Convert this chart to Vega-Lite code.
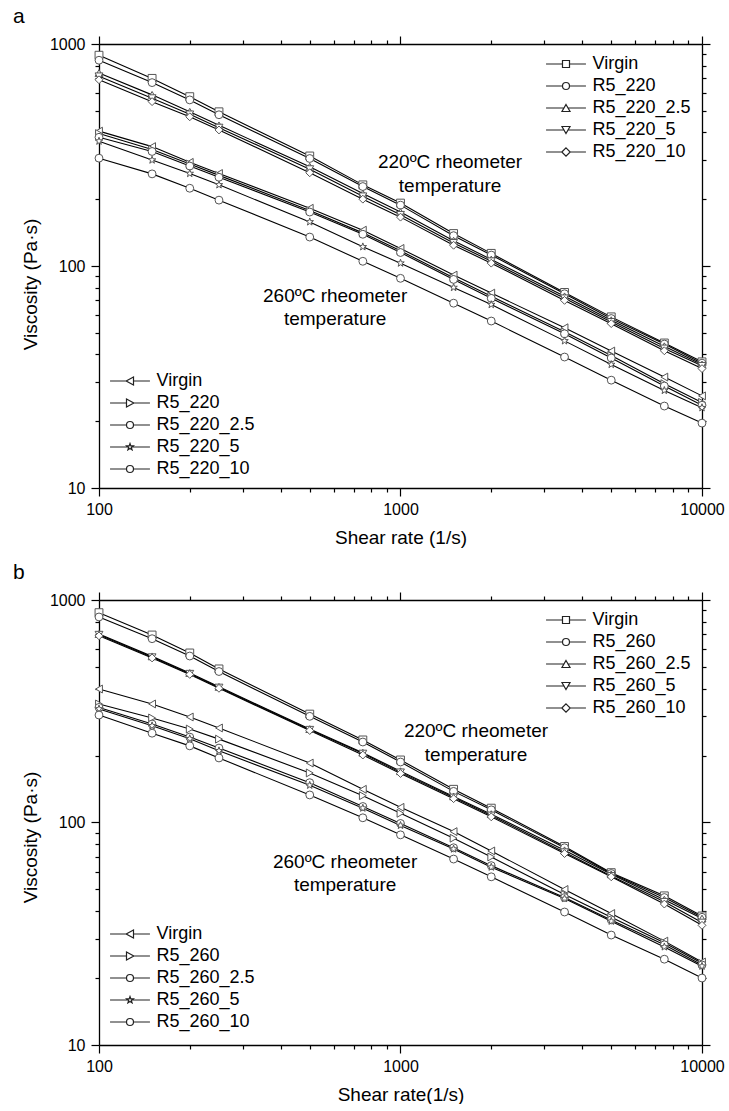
{
"$schema": "https://vega.github.io/schema/vega-lite/v6.json",
"padding": {"left": 13, "top": 6, "right": 0, "bottom": 0},
"spacing": 15,
"datasets": {
"a": [
{"temp":220,"sample":"Virgin","rate":100,"viscosity":890},{"temp":220,"sample":"Virgin","rate":150,"viscosity":700},{"temp":220,"sample":"Virgin","rate":200,"viscosity":579},{"temp":220,"sample":"Virgin","rate":250,"viscosity":495},{"temp":220,"sample":"Virgin","rate":500,"viscosity":313},{"temp":220,"sample":"Virgin","rate":750,"viscosity":232},{"temp":220,"sample":"Virgin","rate":1000,"viscosity":192},{"temp":220,"sample":"Virgin","rate":1500,"viscosity":140},{"temp":220,"sample":"Virgin","rate":2000,"viscosity":114},{"temp":220,"sample":"Virgin","rate":3500,"viscosity":76},{"temp":220,"sample":"Virgin","rate":5000,"viscosity":59},{"temp":220,"sample":"Virgin","rate":7500,"viscosity":45},{"temp":220,"sample":"Virgin","rate":10000,"viscosity":37},
{"temp":220,"sample":"R5_220","rate":100,"viscosity":845},{"temp":220,"sample":"R5_220","rate":150,"viscosity":670},{"temp":220,"sample":"R5_220","rate":200,"viscosity":560},{"temp":220,"sample":"R5_220","rate":250,"viscosity":480},{"temp":220,"sample":"R5_220","rate":500,"viscosity":305},{"temp":220,"sample":"R5_220","rate":750,"viscosity":228},{"temp":220,"sample":"R5_220","rate":1000,"viscosity":188},{"temp":220,"sample":"R5_220","rate":1500,"viscosity":137},{"temp":220,"sample":"R5_220","rate":2000,"viscosity":112},{"temp":220,"sample":"R5_220","rate":3500,"viscosity":75},{"temp":220,"sample":"R5_220","rate":5000,"viscosity":58},{"temp":220,"sample":"R5_220","rate":7500,"viscosity":44.5},{"temp":220,"sample":"R5_220","rate":10000,"viscosity":36.5},
{"temp":220,"sample":"R5_220_2.5","rate":100,"viscosity":740},{"temp":220,"sample":"R5_220_2.5","rate":150,"viscosity":590},{"temp":220,"sample":"R5_220_2.5","rate":200,"viscosity":495},{"temp":220,"sample":"R5_220_2.5","rate":250,"viscosity":430},{"temp":220,"sample":"R5_220_2.5","rate":500,"viscosity":280},{"temp":220,"sample":"R5_220_2.5","rate":750,"viscosity":212},{"temp":220,"sample":"R5_220_2.5","rate":1000,"viscosity":175},{"temp":220,"sample":"R5_220_2.5","rate":1500,"viscosity":130},{"temp":220,"sample":"R5_220_2.5","rate":2000,"viscosity":107},{"temp":220,"sample":"R5_220_2.5","rate":3500,"viscosity":73},{"temp":220,"sample":"R5_220_2.5","rate":5000,"viscosity":57},{"temp":220,"sample":"R5_220_2.5","rate":7500,"viscosity":43.5},{"temp":220,"sample":"R5_220_2.5","rate":10000,"viscosity":36},
{"temp":220,"sample":"R5_220_5","rate":100,"viscosity":715},{"temp":220,"sample":"R5_220_5","rate":150,"viscosity":570},{"temp":220,"sample":"R5_220_5","rate":200,"viscosity":482},{"temp":220,"sample":"R5_220_5","rate":250,"viscosity":420},{"temp":220,"sample":"R5_220_5","rate":500,"viscosity":273},{"temp":220,"sample":"R5_220_5","rate":750,"viscosity":206},{"temp":220,"sample":"R5_220_5","rate":1000,"viscosity":170},{"temp":220,"sample":"R5_220_5","rate":1500,"viscosity":127},{"temp":220,"sample":"R5_220_5","rate":2000,"viscosity":105},{"temp":220,"sample":"R5_220_5","rate":3500,"viscosity":71.5},{"temp":220,"sample":"R5_220_5","rate":5000,"viscosity":56},{"temp":220,"sample":"R5_220_5","rate":7500,"viscosity":42.5},{"temp":220,"sample":"R5_220_5","rate":10000,"viscosity":35.5},
{"temp":220,"sample":"R5_220_10","rate":100,"viscosity":690},{"temp":220,"sample":"R5_220_10","rate":150,"viscosity":550},{"temp":220,"sample":"R5_220_10","rate":200,"viscosity":470},{"temp":220,"sample":"R5_220_10","rate":250,"viscosity":410},{"temp":220,"sample":"R5_220_10","rate":500,"viscosity":263},{"temp":220,"sample":"R5_220_10","rate":750,"viscosity":200},{"temp":220,"sample":"R5_220_10","rate":1000,"viscosity":166},{"temp":220,"sample":"R5_220_10","rate":1500,"viscosity":124},{"temp":220,"sample":"R5_220_10","rate":2000,"viscosity":103},{"temp":220,"sample":"R5_220_10","rate":3500,"viscosity":70},{"temp":220,"sample":"R5_220_10","rate":5000,"viscosity":55},{"temp":220,"sample":"R5_220_10","rate":7500,"viscosity":41.5},{"temp":220,"sample":"R5_220_10","rate":10000,"viscosity":34.5},
{"temp":260,"sample":"Virgin","rate":100,"viscosity":405},{"temp":260,"sample":"Virgin","rate":150,"viscosity":345},{"temp":260,"sample":"Virgin","rate":200,"viscosity":293},{"temp":260,"sample":"Virgin","rate":250,"viscosity":261},{"temp":260,"sample":"Virgin","rate":500,"viscosity":182},{"temp":260,"sample":"Virgin","rate":750,"viscosity":145},{"temp":260,"sample":"Virgin","rate":1000,"viscosity":120},{"temp":260,"sample":"Virgin","rate":1500,"viscosity":91},{"temp":260,"sample":"Virgin","rate":2000,"viscosity":75.5},{"temp":260,"sample":"Virgin","rate":3500,"viscosity":52.7},{"temp":260,"sample":"Virgin","rate":5000,"viscosity":41.4},{"temp":260,"sample":"Virgin","rate":7500,"viscosity":31.6},{"temp":260,"sample":"Virgin","rate":10000,"viscosity":26},
{"temp":260,"sample":"R5_220","rate":100,"viscosity":395},{"temp":260,"sample":"R5_220","rate":150,"viscosity":335},{"temp":260,"sample":"R5_220","rate":200,"viscosity":288},{"temp":260,"sample":"R5_220","rate":250,"viscosity":256},{"temp":260,"sample":"R5_220","rate":500,"viscosity":178},{"temp":260,"sample":"R5_220","rate":750,"viscosity":141},{"temp":260,"sample":"R5_220","rate":1000,"viscosity":117},{"temp":260,"sample":"R5_220","rate":1500,"viscosity":88.5},{"temp":260,"sample":"R5_220","rate":2000,"viscosity":73},{"temp":260,"sample":"R5_220","rate":3500,"viscosity":50.5},{"temp":260,"sample":"R5_220","rate":5000,"viscosity":39.5},{"temp":260,"sample":"R5_220","rate":7500,"viscosity":29.5},{"temp":260,"sample":"R5_220","rate":10000,"viscosity":24.3},
{"temp":260,"sample":"R5_220_2.5","rate":100,"viscosity":380},{"temp":260,"sample":"R5_220_2.5","rate":150,"viscosity":328},{"temp":260,"sample":"R5_220_2.5","rate":200,"viscosity":282},{"temp":260,"sample":"R5_220_2.5","rate":250,"viscosity":251},{"temp":260,"sample":"R5_220_2.5","rate":500,"viscosity":175},{"temp":260,"sample":"R5_220_2.5","rate":750,"viscosity":139},{"temp":260,"sample":"R5_220_2.5","rate":1000,"viscosity":115},{"temp":260,"sample":"R5_220_2.5","rate":1500,"viscosity":87},{"temp":260,"sample":"R5_220_2.5","rate":2000,"viscosity":71.5},{"temp":260,"sample":"R5_220_2.5","rate":3500,"viscosity":49.5},{"temp":260,"sample":"R5_220_2.5","rate":5000,"viscosity":38.5},{"temp":260,"sample":"R5_220_2.5","rate":7500,"viscosity":28.8},{"temp":260,"sample":"R5_220_2.5","rate":10000,"viscosity":23.6},
{"temp":260,"sample":"R5_220_5","rate":100,"viscosity":365},{"temp":260,"sample":"R5_220_5","rate":150,"viscosity":300},{"temp":260,"sample":"R5_220_5","rate":200,"viscosity":261},{"temp":260,"sample":"R5_220_5","rate":250,"viscosity":232},{"temp":260,"sample":"R5_220_5","rate":500,"viscosity":158},{"temp":260,"sample":"R5_220_5","rate":750,"viscosity":122},{"temp":260,"sample":"R5_220_5","rate":1000,"viscosity":103},{"temp":260,"sample":"R5_220_5","rate":1500,"viscosity":80},{"temp":260,"sample":"R5_220_5","rate":2000,"viscosity":67},{"temp":260,"sample":"R5_220_5","rate":3500,"viscosity":46},{"temp":260,"sample":"R5_220_5","rate":5000,"viscosity":36},{"temp":260,"sample":"R5_220_5","rate":7500,"viscosity":27.5},{"temp":260,"sample":"R5_220_5","rate":10000,"viscosity":23},
{"temp":260,"sample":"R5_220_10","rate":100,"viscosity":306},{"temp":260,"sample":"R5_220_10","rate":150,"viscosity":260},{"temp":260,"sample":"R5_220_10","rate":200,"viscosity":224},{"temp":260,"sample":"R5_220_10","rate":250,"viscosity":198},{"temp":260,"sample":"R5_220_10","rate":500,"viscosity":135},{"temp":260,"sample":"R5_220_10","rate":750,"viscosity":105},{"temp":260,"sample":"R5_220_10","rate":1000,"viscosity":88},{"temp":260,"sample":"R5_220_10","rate":1500,"viscosity":68},{"temp":260,"sample":"R5_220_10","rate":2000,"viscosity":56.5},{"temp":260,"sample":"R5_220_10","rate":3500,"viscosity":38.9},{"temp":260,"sample":"R5_220_10","rate":5000,"viscosity":30.6},{"temp":260,"sample":"R5_220_10","rate":7500,"viscosity":23.4},{"temp":260,"sample":"R5_220_10","rate":10000,"viscosity":19.6}
],
"b": [
{"temp":220,"sample":"Virgin","rate":100,"viscosity":877},{"temp":220,"sample":"Virgin","rate":150,"viscosity":696},{"temp":220,"sample":"Virgin","rate":200,"viscosity":578},{"temp":220,"sample":"Virgin","rate":250,"viscosity":490},{"temp":220,"sample":"Virgin","rate":500,"viscosity":307},{"temp":220,"sample":"Virgin","rate":750,"viscosity":235},{"temp":220,"sample":"Virgin","rate":1000,"viscosity":191},{"temp":220,"sample":"Virgin","rate":1500,"viscosity":141},{"temp":220,"sample":"Virgin","rate":2000,"viscosity":116},{"temp":220,"sample":"Virgin","rate":3500,"viscosity":78},{"temp":220,"sample":"Virgin","rate":5000,"viscosity":59.5},{"temp":220,"sample":"Virgin","rate":7500,"viscosity":46.8},{"temp":220,"sample":"Virgin","rate":10000,"viscosity":38},
{"temp":220,"sample":"R5_260","rate":100,"viscosity":839},{"temp":220,"sample":"R5_260","rate":150,"viscosity":670},{"temp":220,"sample":"R5_260","rate":200,"viscosity":560},{"temp":220,"sample":"R5_260","rate":250,"viscosity":477},{"temp":220,"sample":"R5_260","rate":500,"viscosity":300},{"temp":220,"sample":"R5_260","rate":750,"viscosity":230},{"temp":220,"sample":"R5_260","rate":1000,"viscosity":187},{"temp":220,"sample":"R5_260","rate":1500,"viscosity":138},{"temp":220,"sample":"R5_260","rate":2000,"viscosity":114},{"temp":220,"sample":"R5_260","rate":3500,"viscosity":77},{"temp":220,"sample":"R5_260","rate":5000,"viscosity":59},{"temp":220,"sample":"R5_260","rate":7500,"viscosity":46},{"temp":220,"sample":"R5_260","rate":10000,"viscosity":37.5},
{"temp":220,"sample":"R5_260_2.5","rate":100,"viscosity":703},{"temp":220,"sample":"R5_260_2.5","rate":150,"viscosity":558},{"temp":220,"sample":"R5_260_2.5","rate":200,"viscosity":470},{"temp":220,"sample":"R5_260_2.5","rate":250,"viscosity":407},{"temp":220,"sample":"R5_260_2.5","rate":500,"viscosity":263},{"temp":220,"sample":"R5_260_2.5","rate":750,"viscosity":206},{"temp":220,"sample":"R5_260_2.5","rate":1000,"viscosity":170},{"temp":220,"sample":"R5_260_2.5","rate":1500,"viscosity":131},{"temp":220,"sample":"R5_260_2.5","rate":2000,"viscosity":109},{"temp":220,"sample":"R5_260_2.5","rate":3500,"viscosity":75},{"temp":220,"sample":"R5_260_2.5","rate":5000,"viscosity":58.5},{"temp":220,"sample":"R5_260_2.5","rate":7500,"viscosity":45},{"temp":220,"sample":"R5_260_2.5","rate":10000,"viscosity":37},
{"temp":220,"sample":"R5_260_5","rate":100,"viscosity":698},{"temp":220,"sample":"R5_260_5","rate":150,"viscosity":553},{"temp":220,"sample":"R5_260_5","rate":200,"viscosity":466},{"temp":220,"sample":"R5_260_5","rate":250,"viscosity":404},{"temp":220,"sample":"R5_260_5","rate":500,"viscosity":261},{"temp":220,"sample":"R5_260_5","rate":750,"viscosity":204},{"temp":220,"sample":"R5_260_5","rate":1000,"viscosity":168},{"temp":220,"sample":"R5_260_5","rate":1500,"viscosity":129.5},{"temp":220,"sample":"R5_260_5","rate":2000,"viscosity":107.5},{"temp":220,"sample":"R5_260_5","rate":3500,"viscosity":73.5},{"temp":220,"sample":"R5_260_5","rate":5000,"viscosity":57.5},{"temp":220,"sample":"R5_260_5","rate":7500,"viscosity":44},{"temp":220,"sample":"R5_260_5","rate":10000,"viscosity":35.5},
{"temp":220,"sample":"R5_260_10","rate":100,"viscosity":690},{"temp":220,"sample":"R5_260_10","rate":150,"viscosity":549},{"temp":220,"sample":"R5_260_10","rate":200,"viscosity":463},{"temp":220,"sample":"R5_260_10","rate":250,"viscosity":401},{"temp":220,"sample":"R5_260_10","rate":500,"viscosity":259},{"temp":220,"sample":"R5_260_10","rate":750,"viscosity":201},{"temp":220,"sample":"R5_260_10","rate":1000,"viscosity":166},{"temp":220,"sample":"R5_260_10","rate":1500,"viscosity":128},{"temp":220,"sample":"R5_260_10","rate":2000,"viscosity":106},{"temp":220,"sample":"R5_260_10","rate":3500,"viscosity":72.5},{"temp":220,"sample":"R5_260_10","rate":5000,"viscosity":57},{"temp":220,"sample":"R5_260_10","rate":7500,"viscosity":43},{"temp":220,"sample":"R5_260_10","rate":10000,"viscosity":34.5},
{"temp":260,"sample":"Virgin","rate":100,"viscosity":398},{"temp":260,"sample":"Virgin","rate":150,"viscosity":341},{"temp":260,"sample":"Virgin","rate":200,"viscosity":298},{"temp":260,"sample":"Virgin","rate":250,"viscosity":266},{"temp":260,"sample":"Virgin","rate":500,"viscosity":185},{"temp":260,"sample":"Virgin","rate":750,"viscosity":141},{"temp":260,"sample":"Virgin","rate":1000,"viscosity":117},{"temp":260,"sample":"Virgin","rate":1500,"viscosity":91},{"temp":260,"sample":"Virgin","rate":2000,"viscosity":74.5},{"temp":260,"sample":"Virgin","rate":3500,"viscosity":50},{"temp":260,"sample":"Virgin","rate":5000,"viscosity":39},{"temp":260,"sample":"Virgin","rate":7500,"viscosity":29.3},{"temp":260,"sample":"Virgin","rate":10000,"viscosity":23.6},
{"temp":260,"sample":"R5_260","rate":100,"viscosity":341},{"temp":260,"sample":"R5_260","rate":150,"viscosity":295},{"temp":260,"sample":"R5_260","rate":200,"viscosity":263},{"temp":260,"sample":"R5_260","rate":250,"viscosity":237},{"temp":260,"sample":"R5_260","rate":500,"viscosity":167},{"temp":260,"sample":"R5_260","rate":750,"viscosity":132},{"temp":260,"sample":"R5_260","rate":1000,"viscosity":110},{"temp":260,"sample":"R5_260","rate":1500,"viscosity":85},{"temp":260,"sample":"R5_260","rate":2000,"viscosity":70},{"temp":260,"sample":"R5_260","rate":3500,"viscosity":47.5},{"temp":260,"sample":"R5_260","rate":5000,"viscosity":37.5},{"temp":260,"sample":"R5_260","rate":7500,"viscosity":28.8},{"temp":260,"sample":"R5_260","rate":10000,"viscosity":23.3},
{"temp":260,"sample":"R5_260_2.5","rate":100,"viscosity":329},{"temp":260,"sample":"R5_260_2.5","rate":150,"viscosity":277},{"temp":260,"sample":"R5_260_2.5","rate":200,"viscosity":242},{"temp":260,"sample":"R5_260_2.5","rate":250,"viscosity":216},{"temp":260,"sample":"R5_260_2.5","rate":500,"viscosity":151},{"temp":260,"sample":"R5_260_2.5","rate":750,"viscosity":118},{"temp":260,"sample":"R5_260_2.5","rate":1000,"viscosity":99},{"temp":260,"sample":"R5_260_2.5","rate":1500,"viscosity":77},{"temp":260,"sample":"R5_260_2.5","rate":2000,"viscosity":64},{"temp":260,"sample":"R5_260_2.5","rate":3500,"viscosity":46},{"temp":260,"sample":"R5_260_2.5","rate":5000,"viscosity":36.5},{"temp":260,"sample":"R5_260_2.5","rate":7500,"viscosity":28.2},{"temp":260,"sample":"R5_260_2.5","rate":10000,"viscosity":22.9},
{"temp":260,"sample":"R5_260_5","rate":100,"viscosity":324},{"temp":260,"sample":"R5_260_5","rate":150,"viscosity":272},{"temp":260,"sample":"R5_260_5","rate":200,"viscosity":238},{"temp":260,"sample":"R5_260_5","rate":250,"viscosity":210},{"temp":260,"sample":"R5_260_5","rate":500,"viscosity":147},{"temp":260,"sample":"R5_260_5","rate":750,"viscosity":116},{"temp":260,"sample":"R5_260_5","rate":1000,"viscosity":97},{"temp":260,"sample":"R5_260_5","rate":1500,"viscosity":76},{"temp":260,"sample":"R5_260_5","rate":2000,"viscosity":63},{"temp":260,"sample":"R5_260_5","rate":3500,"viscosity":45.5},{"temp":260,"sample":"R5_260_5","rate":5000,"viscosity":36},{"temp":260,"sample":"R5_260_5","rate":7500,"viscosity":27.6},{"temp":260,"sample":"R5_260_5","rate":10000,"viscosity":22.6},
{"temp":260,"sample":"R5_260_10","rate":100,"viscosity":304},{"temp":260,"sample":"R5_260_10","rate":150,"viscosity":252},{"temp":260,"sample":"R5_260_10","rate":200,"viscosity":221},{"temp":260,"sample":"R5_260_10","rate":250,"viscosity":195},{"temp":260,"sample":"R5_260_10","rate":500,"viscosity":133},{"temp":260,"sample":"R5_260_10","rate":750,"viscosity":105},{"temp":260,"sample":"R5_260_10","rate":1000,"viscosity":88},{"temp":260,"sample":"R5_260_10","rate":1500,"viscosity":68.5},{"temp":260,"sample":"R5_260_10","rate":2000,"viscosity":57},{"temp":260,"sample":"R5_260_10","rate":3500,"viscosity":39.6},{"temp":260,"sample":"R5_260_10","rate":5000,"viscosity":31.2},{"temp":260,"sample":"R5_260_10","rate":7500,"viscosity":24.3},{"temp":260,"sample":"R5_260_10","rate":10000,"viscosity":20}
]
},
"vconcat": [
{
"title": {"text": "a"},
"width": 603, "height": 444,
"resolve": {"scale": {"shape": "independent"}, "axis": {"x": "independent", "y": "independent"}},
"layer": [
{"data": {"name": "a"},
 "mark": {"type": "line", "color": "black", "strokeWidth": 1.1},
 "encoding": {
  "x": {"field": "rate", "type": "quantitative", "scale": {"type": "log", "domain": [100, 10000], "nice": false},
   "axis": {"orient": "bottom", "values": [100,200,300,400,500,600,700,800,900,1000,2000,3000,4000,5000,6000,7000,8000,9000,10000], "labelExpr": "datum.value==100||datum.value==1000||datum.value==10000 ? format(datum.value,'d') : ''", "tickSize": {"condition": {"test": "datum.value==100||datum.value==1000||datum.value==10000", "value": 8}, "value": 4}, "labelFlush": false, "labelOverlap": false, "labelPadding": 5, "title": "Shear rate (1/s)", "titlePadding": 11}},
  "y": {"field": "viscosity", "type": "quantitative", "scale": {"type": "log", "domain": [10, 1000], "nice": false},
   "axis": {"orient": "left", "values": [10,20,30,40,50,60,70,80,90,100,200,300,400,500,600,700,800,900,1000], "labelExpr": "datum.value==10||datum.value==100||datum.value==1000 ? format(datum.value,'d') : ''", "tickSize": {"condition": {"test": "datum.value==10||datum.value==100||datum.value==1000", "value": 8}, "value": 4}, "labelOverlap": false, "labelPadding": 6, "title": "Viscosity (Pa·s)", "titlePadding": 9, "titleY": 240}},
  "detail": [{"field": "temp"}, {"field": "sample"}]
 }},
{"data": {"name": "a"},
 "transform": [{"filter": "datum.temp == 220"}],
 "mark": {"type": "point", "filled": true, "fill": "white", "stroke": "#555", "strokeWidth": 1, "size": 62, "opacity": 1},
 "encoding": {
  "x": {"field": "rate", "type": "quantitative", "axis": {"orient": "top", "values": [100,200,300,400,500,600,700,800,900,1000,2000,3000,4000,5000,6000,7000,8000,9000,10000], "labels": false, "title": null, "tickSize": {"condition": {"test": "datum.value==100||datum.value==1000||datum.value==10000", "value": 8}, "value": 4}}},
  "y": {"field": "viscosity", "type": "quantitative", "axis": {"orient": "right", "values": [10,20,30,40,50,60,70,80,90,100,200,300,400,500,600,700,800,900,1000], "labels": false, "title": null, "tickSize": {"condition": {"test": "datum.value==10||datum.value==100||datum.value==1000", "value": 8}, "value": 4}}},
  "shape": {"field": "sample", "type": "nominal", "legend": null, "scale": {"domain": ["Virgin", "R5_220", "R5_220_2.5", "R5_220_5", "R5_220_10"], "range": ["square", "circle", "triangle-up", "triangle-down", "diamond"]}}
 }},
{"data": {"name": "a"},
 "transform": [{"filter": "datum.temp == 260"}],
 "mark": {"type": "point", "filled": true, "fill": "white", "stroke": "#555", "strokeWidth": 1, "size": 62, "opacity": 1},
 "encoding": {
  "x": {"field": "rate", "type": "quantitative", "axis": null},
  "y": {"field": "viscosity", "type": "quantitative", "axis": null},
  "shape": {"field": "sample", "type": "nominal", "legend": null, "scale": {"domain": ["Virgin", "R5_220", "R5_220_2.5", "R5_220_5", "R5_220_10"], "range": ["triangle-left", "triangle-right", "circle", "M0,-1L0.235,-0.324L0.951,-0.309L0.38,0.124L0.588,0.809L0,0.4L-0.588,0.809L-0.38,0.124L-0.951,-0.309L-0.235,-0.324Z", "circle"]}}
 }},
{"data": {"values": []},
 "mark": {"type": "point", "filled": false, "stroke": "#222", "strokeWidth": 1.2, "opacity": 1},
 "encoding": {
  "shape": {"field": "sample", "type": "nominal", "scale": {"domain": ["Virgin", "R5_220", "R5_220_2.5", "R5_220_5", "R5_220_10"], "range": ["M-5.7,0H-1M1,0H5.7M-1,-1H1V1H-1Z", "M-5.7,0H-1M1,0H5.7M-1,0A1 1 0 1 0 1,0A1 1 0 1 0 -1,0Z", "M-5.7,0H-0.575M0.575,0H5.7M0,-1L1.15,1L-1.15,1Z", "M-5.7,0H-0.575M0.575,0H5.7M0,1L1.15,-1L-1.15,-1Z", "M-5.7,0H-1.2M1.2,0H5.7M0,-1.2L1.2,0L0,1.2L-1.2,0Z"]},
   "legend": {"orient": "top-right", "offset": 11}}
 }},
{"data": {"values": []},
 "mark": {"type": "point", "filled": false, "stroke": "#222", "strokeWidth": 1.2, "opacity": 1},
 "encoding": {
  "shape": {"field": "sample", "type": "nominal", "scale": {"domain": ["Virgin", "R5_220", "R5_220_2.5", "R5_220_5", "R5_220_10"], "range": ["M-5.7,0H-1.1M1,0H5.7M-1.1,0L1,-1.15L1,1.15Z", "M-5.7,0H-1M1.1,0H5.7M1.1,0L-1,-1.15L-1,1.15Z", "M-5.7,0H-1M1,0H5.7M-1,0A1 1 0 1 0 1,0A1 1 0 1 0 -1,0Z", "M-5.7,0H-0.6M0.6,0H5.7M0,-1L0.235,-0.324L0.951,-0.309L0.38,0.124L0.588,0.809L0,0.4L-0.588,0.809L-0.38,0.124L-0.951,-0.309L-0.235,-0.324Z", "M-5.7,0H-1M1,0H5.7M-1,0A1 1 0 1 0 1,0A1 1 0 1 0 -1,0Z"]},
   "legend": {"orient": "none", "legendX": 22, "legendY": 328}}
 }},
{"data": {"values": [{}]},
 "mark": {"type": "text", "fontSize": 19, "font": "Liberation Sans", "lineHeight": 24, "align": "center", "baseline": "middle", "color": "black"},
 "encoding": {"x": {"datum": 1460, "type": "quantitative", "axis": null}, "y": {"datum": 294, "type": "quantitative", "axis": null}, "text": {"value": ["220ºC rheometer", "temperature"]}}},
{"data": {"values": [{}]},
 "mark": {"type": "text", "fontSize": 19, "font": "Liberation Sans", "lineHeight": 23, "align": "center", "baseline": "middle", "color": "black"},
 "encoding": {"x": {"datum": 607, "type": "quantitative", "axis": null}, "y": {"datum": 73.3, "type": "quantitative", "axis": null}, "text": {"value": ["260ºC rheometer", "temperature"]}}}
]
},
{
"title": {"text": "b"},
"width": 603, "height": 445,
"resolve": {"scale": {"shape": "independent"}, "axis": {"x": "independent", "y": "independent"}},
"layer": [
{"data": {"name": "b"},
 "mark": {"type": "line", "color": "black", "strokeWidth": 1.1},
 "encoding": {
  "x": {"field": "rate", "type": "quantitative", "scale": {"type": "log", "domain": [100, 10000], "nice": false},
   "axis": {"orient": "bottom", "values": [100,200,300,400,500,600,700,800,900,1000,2000,3000,4000,5000,6000,7000,8000,9000,10000], "labelExpr": "datum.value==100||datum.value==1000||datum.value==10000 ? format(datum.value,'d') : ''", "tickSize": {"condition": {"test": "datum.value==100||datum.value==1000||datum.value==10000", "value": 8}, "value": 4}, "labelFlush": false, "labelOverlap": false, "labelPadding": 5, "title": "Shear rate(1/s)", "titlePadding": 11}},
  "y": {"field": "viscosity", "type": "quantitative", "scale": {"type": "log", "domain": [10, 1000], "nice": false},
   "axis": {"orient": "left", "values": [10,20,30,40,50,60,70,80,90,100,200,300,400,500,600,700,800,900,1000], "labelExpr": "datum.value==10||datum.value==100||datum.value==1000 ? format(datum.value,'d') : ''", "tickSize": {"condition": {"test": "datum.value==10||datum.value==100||datum.value==1000", "value": 8}, "value": 4}, "labelOverlap": false, "labelPadding": 6, "title": "Viscosity (Pa·s)", "titlePadding": 9, "titleY": 237}},
  "detail": [{"field": "temp"}, {"field": "sample"}]
 }},
{"data": {"name": "b"},
 "transform": [{"filter": "datum.temp == 220"}],
 "mark": {"type": "point", "filled": true, "fill": "white", "stroke": "#555", "strokeWidth": 1, "size": 62, "opacity": 1},
 "encoding": {
  "x": {"field": "rate", "type": "quantitative", "axis": {"orient": "top", "values": [100,200,300,400,500,600,700,800,900,1000,2000,3000,4000,5000,6000,7000,8000,9000,10000], "labels": false, "title": null, "tickSize": {"condition": {"test": "datum.value==100||datum.value==1000||datum.value==10000", "value": 8}, "value": 4}}},
  "y": {"field": "viscosity", "type": "quantitative", "axis": {"orient": "right", "values": [10,20,30,40,50,60,70,80,90,100,200,300,400,500,600,700,800,900,1000], "labels": false, "title": null, "tickSize": {"condition": {"test": "datum.value==10||datum.value==100||datum.value==1000", "value": 8}, "value": 4}}},
  "shape": {"field": "sample", "type": "nominal", "legend": null, "scale": {"domain": ["Virgin", "R5_260", "R5_260_2.5", "R5_260_5", "R5_260_10"], "range": ["square", "circle", "triangle-up", "triangle-down", "diamond"]}}
 }},
{"data": {"name": "b"},
 "transform": [{"filter": "datum.temp == 260"}],
 "mark": {"type": "point", "filled": true, "fill": "white", "stroke": "#555", "strokeWidth": 1, "size": 62, "opacity": 1},
 "encoding": {
  "x": {"field": "rate", "type": "quantitative", "axis": null},
  "y": {"field": "viscosity", "type": "quantitative", "axis": null},
  "shape": {"field": "sample", "type": "nominal", "legend": null, "scale": {"domain": ["Virgin", "R5_260", "R5_260_2.5", "R5_260_5", "R5_260_10"], "range": ["triangle-left", "triangle-right", "circle", "M0,-1L0.235,-0.324L0.951,-0.309L0.38,0.124L0.588,0.809L0,0.4L-0.588,0.809L-0.38,0.124L-0.951,-0.309L-0.235,-0.324Z", "circle"]}}
 }},
{"data": {"values": []},
 "mark": {"type": "point", "filled": false, "stroke": "#222", "strokeWidth": 1.2, "opacity": 1},
 "encoding": {
  "shape": {"field": "sample", "type": "nominal", "scale": {"domain": ["Virgin", "R5_260", "R5_260_2.5", "R5_260_5", "R5_260_10"], "range": ["M-5.7,0H-1M1,0H5.7M-1,-1H1V1H-1Z", "M-5.7,0H-1M1,0H5.7M-1,0A1 1 0 1 0 1,0A1 1 0 1 0 -1,0Z", "M-5.7,0H-0.575M0.575,0H5.7M0,-1L1.15,1L-1.15,1Z", "M-5.7,0H-0.575M0.575,0H5.7M0,1L1.15,-1L-1.15,-1Z", "M-5.7,0H-1.2M1.2,0H5.7M0,-1.2L1.2,0L0,1.2L-1.2,0Z"]},
   "legend": {"orient": "top-right", "offset": 11}}
 }},
{"data": {"values": []},
 "mark": {"type": "point", "filled": false, "stroke": "#222", "strokeWidth": 1.2, "opacity": 1},
 "encoding": {
  "shape": {"field": "sample", "type": "nominal", "scale": {"domain": ["Virgin", "R5_260", "R5_260_2.5", "R5_260_5", "R5_260_10"], "range": ["M-5.7,0H-1.1M1,0H5.7M-1.1,0L1,-1.15L1,1.15Z", "M-5.7,0H-1M1.1,0H5.7M1.1,0L-1,-1.15L-1,1.15Z", "M-5.7,0H-1M1,0H5.7M-1,0A1 1 0 1 0 1,0A1 1 0 1 0 -1,0Z", "M-5.7,0H-0.6M0.6,0H5.7M0,-1L0.235,-0.324L0.951,-0.309L0.38,0.124L0.588,0.809L0,0.4L-0.588,0.809L-0.38,0.124L-0.951,-0.309L-0.235,-0.324Z", "M-5.7,0H-1M1,0H5.7M-1,0A1 1 0 1 0 1,0A1 1 0 1 0 -1,0Z"]},
   "legend": {"orient": "none", "legendX": 22, "legendY": 325}}
 }},
{"data": {"values": [{}]},
 "mark": {"type": "text", "fontSize": 19, "font": "Liberation Sans", "lineHeight": 24, "align": "center", "baseline": "middle", "color": "black"},
 "encoding": {"x": {"datum": 1780, "type": "quantitative", "axis": null}, "y": {"datum": 258, "type": "quantitative", "axis": null}, "text": {"value": ["220ºC rheometer", "temperature"]}}},
{"data": {"values": [{}]},
 "mark": {"type": "text", "fontSize": 19, "font": "Liberation Sans", "lineHeight": 23, "align": "center", "baseline": "middle", "color": "black"},
 "encoding": {"x": {"datum": 655, "type": "quantitative", "axis": null}, "y": {"datum": 66.4, "type": "quantitative", "axis": null}, "text": {"value": ["260ºC rheometer", "temperature"]}}}
]
}
],
"config": {
 "view": {"stroke": null},
 "axis": {"domainColor": "black", "tickColor": "black", "labelColor": "black", "titleColor": "black", "labelFont": "Liberation Sans", "titleFont": "Liberation Sans", "labelFontSize": 16, "titleFontSize": 19, "titleFontWeight": "normal", "grid": false, "domainWidth": 1.3, "tickWidth": 1.2},
 "title": {"font": "Liberation Sans", "fontSize": 21, "fontWeight": "normal", "anchor": "start", "frame": "group", "offset": 8, "color": "black", "dx": -86},
 "legend": {"title": null, "padding": 0, "symbolSize": 49, "symbolStrokeWidth": 1.2, "symbolStrokeColor": "#222", "labelOffset": 17.5, "rowPadding": 4, "labelFontSize": 18, "labelFont": "Liberation Sans", "labelColor": "black"}
}
}
